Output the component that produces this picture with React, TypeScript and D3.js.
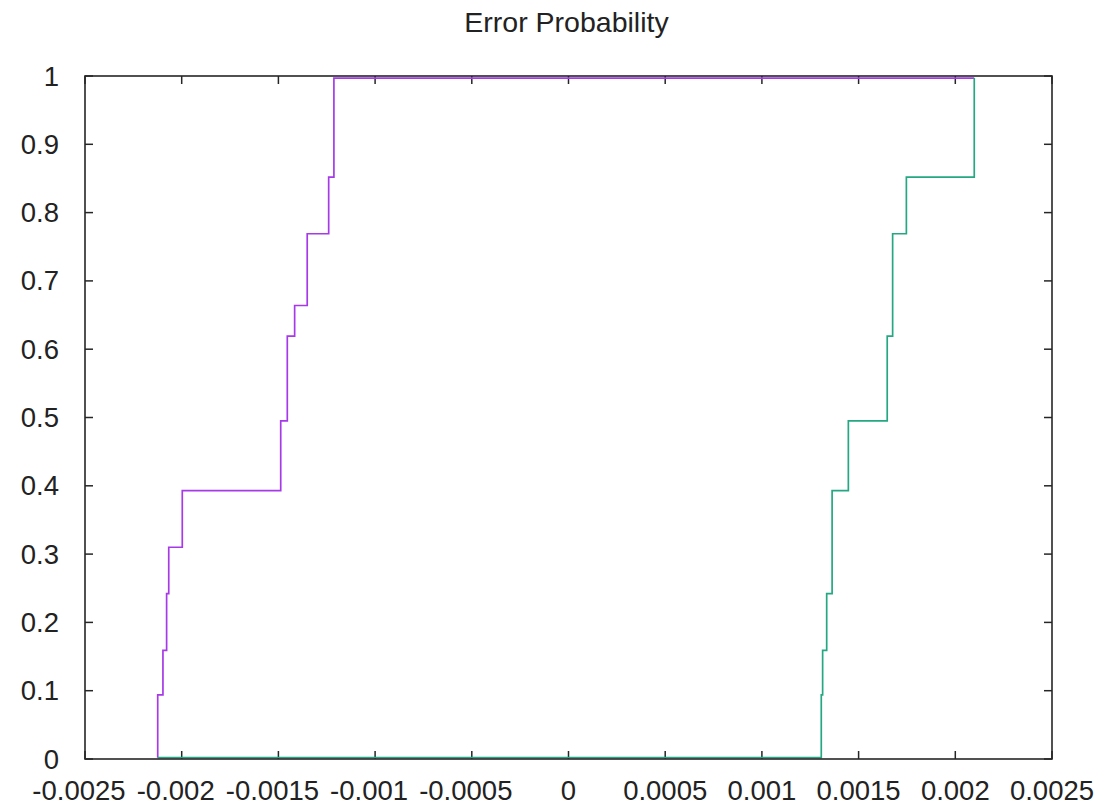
import * as d3 from "d3";

// step points (x = error, y = probability)
const purpleX = [-0.002124, -0.002124, -0.002097, -0.002078, -0.002067, -0.001997, -0.001488, -0.001454, -0.001416, -0.001351, -0.00124, -0.001213, 0.002098];
const purpleY = [0.002, 0.094, 0.159, 0.242, 0.31, 0.393, 0.495, 0.619, 0.664, 0.769, 0.852, 0.997, 0.997];

const greenX = [-0.002124, 0.001307, 0.001314, 0.001335, 0.001363, 0.001447, 0.001648, 0.001676, 0.001747, 0.002098];
const greenY = [0.002, 0.094, 0.159, 0.242, 0.393, 0.495, 0.619, 0.769, 0.852, 0.997];

const xTicks = [-0.0025, -0.002, -0.0015, -0.001, -0.0005, 0, 0.0005, 0.001, 0.0015, 0.002, 0.0025];
const xTickLabels = ["-0.0025", "-0.002", "-0.0015", "-0.001", "-0.0005", "0", "0.0005", "0.001", "0.0015", "0.002", "0.0025"];
const yTicks = [0, 0.1, 0.2, 0.3, 0.4, 0.5, 0.6, 0.7, 0.8, 0.9, 1];
const yTickLabels = ["0", "0.1", "0.2", "0.3", "0.4", "0.5", "0.6", "0.7", "0.8", "0.9", "1"];

const title = "Error Probability";

const App = () => {
    const width = 1116, height = 806;
    const margin = {top: 76, right: 64, bottom: 47, left: 85};
    const left = margin.left, right = width - margin.right;
    const top = margin.top, bottom = height - margin.bottom;

    const x = d3.scaleLinear().domain([-0.0025, 0.0025]).range([left, right]);
    const y = d3.scaleLinear().domain([0, 1]).range([bottom, top]);

    const line = d3.line<[number, number]>()
        .x(d => x(d[0]))
        .y(d => y(d[1]))
        .curve(d3.curveStepAfter);

    const purple: [number, number][] = purpleX.map((v, i) => [v, purpleY[i]]);
    const green: [number, number][] = greenX.map((v, i) => [v, greenY[i]]);

    const font = "'Liberation Sans', Arial, sans-serif";
    const axisColor = "#262626";
    const tickLen = 8;

    return (
        <svg width={width} height={height}
             style={{position: "absolute", left: 0, top: 0, background: "#fff"}}>
            <text x={(left + right) / 2 - 2} y={32} textAnchor="middle"
                  fontFamily={font} fontSize={28.5} fill="#222">{title}</text>

            {/* ticks, mirrored on all four sides */}
            {xTicks.map((t, i) => (
                <g key={"xt" + i}>
                    <line x1={x(t)} x2={x(t)} y1={bottom} y2={bottom - tickLen} stroke={axisColor} strokeWidth={1.5}/>
                    <line x1={x(t)} x2={x(t)} y1={top} y2={top + tickLen} stroke={axisColor} strokeWidth={1.5}/>
                    <text x={x(t) + (t < 0 ? -6 : 0)} y={800} textAnchor="middle"
                          fontFamily={font} fontSize={27.5} fill="#222">{xTickLabels[i]}</text>
                </g>
            ))}
            {yTicks.map((t, i) => (
                <g key={"yt" + i}>
                    <line x1={left} x2={left + tickLen} y1={y(t)} y2={y(t)} stroke={axisColor} strokeWidth={1.5}/>
                    <line x1={right} x2={right - tickLen} y1={y(t)} y2={y(t)} stroke={axisColor} strokeWidth={1.5}/>
                    <text x={59} y={y(t) + 9.5} textAnchor="end"
                          fontFamily={font} fontSize={27.5} fill="#222">{yTickLabels[i]}</text>
                </g>
            ))}

            <path d={line(purple) || ""} fill="none" stroke="#a63ae8" strokeWidth={1.7}/>
            <path d={line(green) || ""} fill="none" stroke="#25a881" strokeWidth={1.7}/>

            <rect x={left} y={top} width={right - left} height={bottom - top}
                  fill="none" stroke={axisColor} strokeWidth={1.6}/>
        </svg>
    );
};

export default App;
